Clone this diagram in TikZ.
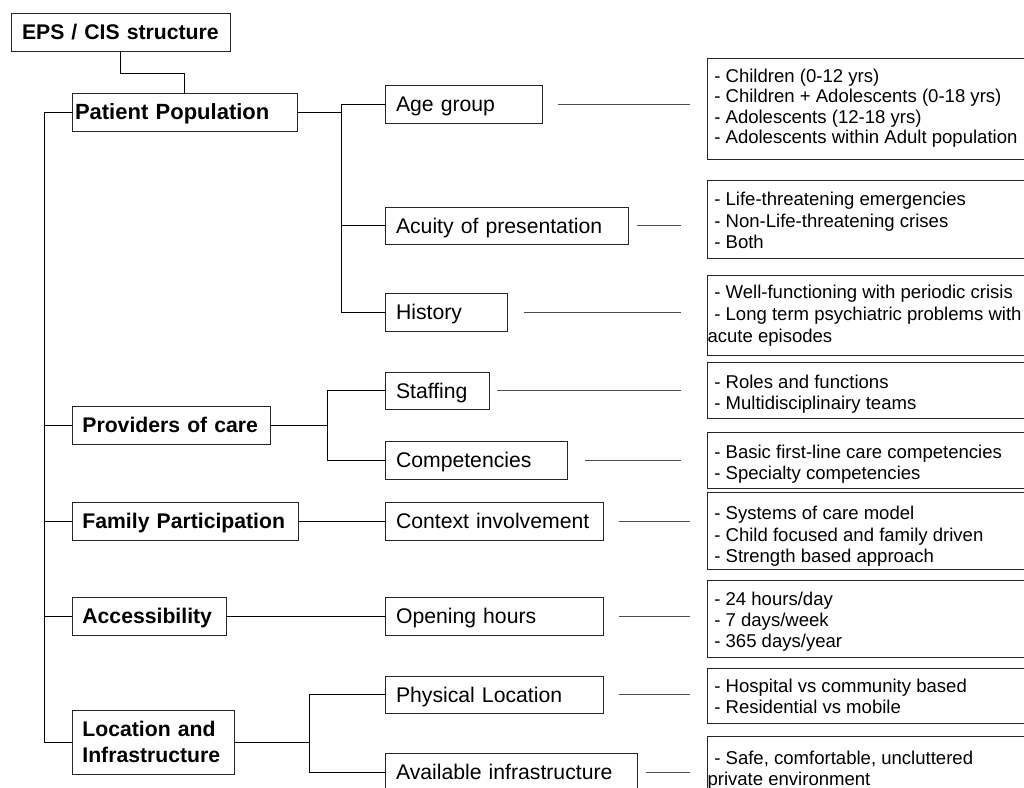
\documentclass[tikz,border=0pt]{standalone}
\usepackage{fontspec}
\setmainfont{Liberation Sans}
\setlength{\parindent}{0pt}
\newcommand\dsh{\hspace*{6.8pt}- }
\begin{document}
\begin{tikzpicture}[x=1pt,y=-1pt,
  every node/.style={inner ysep=0pt, outer sep=0pt},
  bx/.style={draw=black!85, line width=1pt, anchor=north west, align=left, minimum height=38pt},
  one/.style={text height=15.2pt, text depth=0pt},
  lone/.style={bx, one, font=\fontsize{21.2}{26}\selectfont\bfseries},
  ltwo/.style={bx, one, font=\fontsize{21.2}{26}\selectfont, inner xsep=11pt},
  dbox/.style={draw=black!85, line width=1pt, anchor=north west, minimum width=330pt},
  dtxt/.style={anchor=base west, inner sep=0pt, font=\fontsize{18.55}{21.5}\selectfont},
  tree/.style={line width=1pt, black},
  lnk/.style={line width=1pt, black!70}]
\clip (0,0) rectangle (1024,787);
\fill[white] (0,0) rectangle (1024,787);

% level 1
\node[lone, inner xsep=11pt, text width=197pt] (top) at (11,13) {EPS / CIS structure};
\node[lone, font=\fontsize{22}{26}\selectfont\bfseries, inner xsep=3pt, text width=219pt] (pp) at (72,93) {Patient Population};
\node[lone, inner xsep=10.4pt, text width=177.2pt] (prov) at (72,406) {Providers of care};
\node[lone, inner xsep=10.4pt, text width=205.2pt] (fam) at (72,502) {Family Participation};
\node[lone, inner xsep=10.4pt, text width=133.2pt] (acc) at (72,597) {Accessibility};
\node[bx, font=\fontsize{21.2}{26}\selectfont\bfseries, inner xsep=10.4pt, text width=141.2pt, minimum height=64pt] (loc) at (72,710) {Location and\\Infrastructure};

% level 2
\node[ltwo, text width=135pt] (age) at (385,85) {Age group};
\node[ltwo, text width=221pt, minimum height=37pt] (acu) at (385,207) {Acuity of presentation};
\node[ltwo, text width=100pt] (hist) at (385,293) {History};
\node[ltwo, text width=82pt, minimum height=37pt] (staff) at (385,372) {Staffing};
\node[ltwo, text width=160pt] (comp) at (385,441) {Competencies};
\node[ltwo, text width=196pt] (ctx) at (385,502) {Context involvement};
\node[ltwo, text width=196pt] (open) at (385,597) {Opening hours};
\node[ltwo, text width=196pt, minimum height=37pt] (phys) at (385,676) {Physical Location};
\node[ltwo, text width=230pt] (avail) at (385,753) {Available infrastructure};

% detail boxes
\node[dbox, minimum height=101pt] (d1) at (707,58.5) {};
\node[dbox, minimum height=78pt] (d2) at (707,180) {};
\node[dbox, minimum height=80pt] (d3) at (707,275) {};
\node[dbox, minimum height=56pt] (d4) at (707,362) {};
\node[dbox, minimum height=56pt] (d5) at (707,432) {};
\node[dbox, minimum height=77pt] (d6) at (707,492) {};
\node[dbox, minimum height=77pt] (d7) at (707,580) {};
\node[dbox, minimum height=55pt] (d8) at (707,668) {};
\node[dbox, minimum height=64pt] (d9) at (707,736) {};

% detail texts
\node[dtxt] (t1) at (707.5,82.5) {\vtop{\baselineskip=20.3pt
  \hbox{\dsh Children (0-12 yrs)}\hbox{\dsh Children + Adolescents (0-18 yrs)}\hbox{\dsh Adolescents (12-18 yrs)}\hbox{\dsh Adolescents within Adult population}}};
\node[dtxt] (t2) at (707.5,205.5) {\vtop{\baselineskip=21.5pt
  \hbox{\dsh Life-threatening emergencies}\hbox{\dsh Non-Life-threatening crises}\hbox{\dsh Both}}};
\node[dtxt] (t3) at (707.5,298) {\vtop{\baselineskip=22pt
  \hbox{\dsh Well-functioning with periodic crisis}\hbox{\dsh Long term psychiatric problems with}\hbox{acute episodes}}};
\node[dtxt] (t4) at (707.5,388) {\vtop{\baselineskip=21.5pt
  \hbox{\dsh Roles and functions}\hbox{\dsh Multidisciplinairy teams}}};
\node[dtxt] (t5) at (707.5,458) {\vtop{\baselineskip=21.5pt
  \hbox{\dsh Basic first-line care competencies}\hbox{\dsh Specialty competencies}}};
\node[dtxt] (t6) at (707.5,519.5) {\vtop{\baselineskip=21.5pt
  \hbox{\dsh Systems of care model}\hbox{\dsh Child focused and family driven}\hbox{\dsh Strength based approach}}};
\node[dtxt] (t7) at (707.5,605.5) {\vtop{\baselineskip=20.8pt
  \hbox{\dsh 24 hours/day}\hbox{\dsh 7 days/week}\hbox{\dsh 365 days/year}}};
\node[dtxt] (t8) at (707.5,692.5) {\vtop{\baselineskip=21pt
  \hbox{\dsh Hospital vs community based}\hbox{\dsh Residential vs mobile}}};
\node[dtxt] (t9) at (707.5,764) {\vtop{\baselineskip=21pt
  \hbox{\dsh Safe, comfortable, uncluttered}\hbox{private environment}}};

% tree connectors
\coordinate (sp) at (44,0);
\coordinate (b1) at (341,0);
\coordinate (b2) at (327,0);
\coordinate (b3) at (309,0);
\draw[tree] (top.south) -- ++(0,22) -| (pp.north);
\draw[tree] (pp.west) -| (sp |- loc.west) -- (loc.west);
\draw[tree] (prov.west) -- (prov.west -| sp);
\draw[tree] (fam.west) -- (fam.west -| sp);
\draw[tree] (acc.west) -- (acc.west -| sp);
\draw[tree] (pp.east) -- (pp.east -| b1);
\draw[tree] (age.west) -| (b1 |- hist.west) -- (hist.west);
\draw[tree] (acu.west) -- (acu.west -| b1);
\draw[tree] (prov.east) -- (prov.east -| b2);
\draw[tree] (staff.west) -| (b2 |- comp.west) -- (comp.west);
\draw[tree] (fam.east) -- (ctx.west);
\draw[tree] (acc.east) -- (open.west);
\draw[tree] (loc.east) -- (loc.east -| b3);
\draw[tree] (phys.west) -| (b3 |- avail.west) -- (avail.west);

% links to details
\draw[lnk, shorten <=16pt, shorten >=17pt] (age.east) -- (age.east -| d1.west);
\draw[lnk, shorten <=9pt, shorten >=26pt] (acu.east) -- (acu.east -| d2.west);
\draw[lnk, shorten <=17pt, shorten >=26pt] (hist.east) -- (hist.east -| d3.west);
\draw[lnk, shorten <=8pt, shorten >=26pt] (staff.east) -- (staff.east -| d4.west);
\draw[lnk, shorten <=18pt, shorten >=26pt] (comp.east) -- (comp.east -| d5.west);
\draw[lnk, shorten <=16pt, shorten >=17pt] (ctx.east) -- (ctx.east -| d6.west);
\draw[lnk, shorten <=16pt, shorten >=17pt] (open.east) -- (open.east -| d7.west);
\draw[lnk, shorten <=16pt, shorten >=17pt] (phys.east) -- (phys.east -| d8.west);
\draw[lnk, shorten <=9pt, shorten >=17pt] (avail.east) -- (avail.east -| d9.west);
\end{tikzpicture}
\end{document}
